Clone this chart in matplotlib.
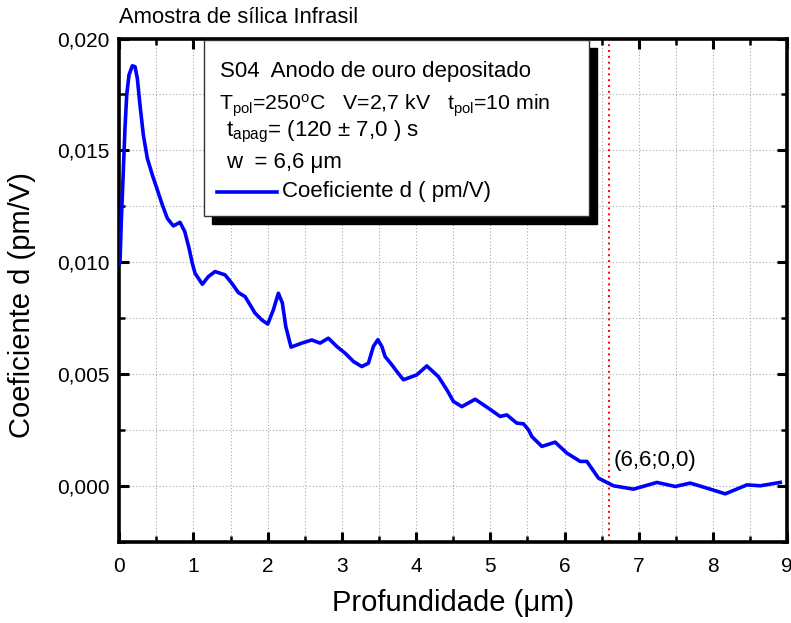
import numpy as np
import matplotlib
matplotlib.use('Agg')
import matplotlib.pyplot as plt
from matplotlib.ticker import MultipleLocator, FuncFormatter
from matplotlib.patches import Rectangle
from matplotlib.lines import Line2D

plt.rcParams['font.family'] = ['Liberation Sans', 'DejaVu Sans']
plt.rcParams['mathtext.fontset'] = 'custom'
plt.rcParams['mathtext.rm'] = 'Liberation Sans'
plt.rcParams['mathtext.it'] = 'Liberation Sans:italic'

# profundidade (um) x coeficiente d (pm/V)
prof = [0.0, 0.011, 0.028, 0.055, 0.078, 0.101, 0.132, 0.177, 0.213, 0.244,
        0.28, 0.325, 0.379, 0.446, 0.514, 0.581, 0.648, 0.729, 0.819, 0.883,
        0.941, 0.985, 1.022, 1.12, 1.2, 1.291, 1.426, 1.516, 1.605, 1.695,
        1.763, 1.83, 1.92, 2.001, 2.077, 2.144, 2.198, 2.244, 2.315, 2.46,
        2.594, 2.706, 2.818, 2.931, 3.043, 3.155, 3.268, 3.357, 3.424, 3.484,
        3.538, 3.582, 3.673, 3.74, 3.829, 4.009, 4.144, 4.3, 4.414, 4.503,
        4.616, 4.795, 4.974, 5.132, 5.222, 5.357, 5.446, 5.514, 5.559, 5.694,
        5.873, 6.031, 6.21, 6.3, 6.457, 6.659, 6.929, 7.244, 7.49, 7.693,
        7.962, 8.164, 8.457, 8.636, 8.905]
coef = [0.00990, 0.01004, 0.01181, 0.01405, 0.01599, 0.01747, 0.01837, 0.01878, 0.01874, 0.01822,
        0.01703, 0.01569, 0.01464, 0.01390, 0.01323, 0.01256, 0.01196, 0.01162, 0.01178, 0.01137,
        0.01062, 0.00995, 0.00950, 0.00901, 0.00935, 0.00958, 0.00943, 0.00906, 0.00864, 0.00846,
        0.00809, 0.00772, 0.00742, 0.00723, 0.00787, 0.00861, 0.00817, 0.00712, 0.00620, 0.00638,
        0.00652, 0.00638, 0.00660, 0.00623, 0.00593, 0.00556, 0.00533, 0.00548, 0.00623, 0.00653,
        0.00623, 0.00578, 0.00541, 0.00511, 0.00474, 0.00496, 0.00536, 0.00488, 0.00429, 0.00377,
        0.00354, 0.00387, 0.00347, 0.00310, 0.00317, 0.00280, 0.00277, 0.00250, 0.00220, 0.00176,
        0.00195, 0.00146, 0.00109, 0.00109, 0.00034, 0.00000, -0.00015, 0.00015, -0.00003, 0.00012,
        -0.00015, -0.00036, 0.00004, 0.00000, 0.00015]

w_prof = 6.6
w_label = '(6,6;0,0)'

fig = plt.figure(figsize=(7.91, 6.23), dpi=100)
ax = fig.add_axes([0.1507, 0.1305, 0.8446, 0.8077])

ax.plot(prof, coef, color='#0000ff', lw=2.6, solid_joinstyle='round', zorder=3)
ax.axvline(w_prof, color='red', ls=(0, (1, 2)), lw=1.4, zorder=2)
ax.text(w_prof + 0.06, 0.00113, w_label, fontsize=16, va='center', ha='left')

ax.set_xlim(0, 9)
ax.set_ylim(-0.0025, 0.020)
ax.xaxis.set_major_locator(MultipleLocator(1))
ax.xaxis.set_minor_locator(MultipleLocator(0.5))
ax.yaxis.set_major_locator(MultipleLocator(0.005))
ax.yaxis.set_minor_locator(MultipleLocator(0.0025))
ax.yaxis.set_major_formatter(FuncFormatter(lambda v, p: f'{v:.3f}'.replace('.', ',')))
ax.xaxis.set_major_formatter(FuncFormatter(lambda v, p: f'{v:.0f}'))

ax.tick_params(which='both', direction='in', top=True, right=True, labelsize=15)
ax.tick_params(axis='x', which='major', pad=11)
ax.tick_params(axis='y', which='major', pad=7)
ax.tick_params(which='major', length=7, width=2.2)
ax.tick_params(which='minor', length=4, width=1.8)
for s in ax.spines.values():
    s.set_linewidth(2.6)

ax.grid(which='both', color='#a8a8a8', ls=(0, (1, 2)), lw=0.8, zorder=0)
ax.set_axisbelow(True)

ax.set_xlabel('Profundidade (μm)', fontsize=21)
ax.set_ylabel('Coeficiente d (pm/V)', fontsize=21)
ax.xaxis.set_label_coords(0.499, -0.094)
ax.yaxis.set_label_coords(-0.125, 0.47)
ax.set_title('Amostra de sílica Infrasil', loc='left', fontsize=15.8, pad=11)


def frac(px, py):
    # pixel position of the figure -> axes fraction
    return (px - 119.2) / 668.1, (541.7 - py) / 503.4


# caixa de legenda com sombra
x0, y0 = frac(203.5, 216)
x1, y1 = frac(589, 39.5)
dx, dy = 8 / 668.1, 8 / 503.4
ax.add_patch(Rectangle((x0 + dx, y0 - dy), x1 - x0, y1 - y0, transform=ax.transAxes,
                       facecolor='black', edgecolor='black', zorder=5, clip_on=False))
ax.add_patch(Rectangle((x0, y0), x1 - x0, y1 - y0, transform=ax.transAxes,
                       facecolor='white', edgecolor='#333333', lw=1, zorder=6, clip_on=False))

rows = [
    (220, 76.7, 'S04  Anodo de ouro depositado', 16),
    (219.3, 110, r'T$_{\mathregular{pol}}$=250$^{\mathregular{o}}$C   V=2,7 kV   t$_{\mathregular{pol}}$=10 min', 15.3),
    (226, 136.7, r't$_{\mathregular{apag}}$= (120 ± 7,0 ) s', 16),
    (225.7, 168.3, 'w  = 6,6 μm', 16),
    (281.7, 196.7, 'Coeficiente d ( pm/V)', 16),
]
for px, py, txt, fs in rows:
    fx, fy = frac(px, py)
    ax.text(fx, fy, txt, transform=ax.transAxes, fontsize=fs, ha='left', va='baseline', zorder=7)

lx0, ly = frac(216.7, 191.7)
lx1, _ = frac(277.3, 191.7)
ax.add_line(Line2D([lx0, lx1], [ly, ly], transform=ax.transAxes, color='#0000ff', lw=2.6, zorder=7))

fig.savefig('out.png', dpi=100)
